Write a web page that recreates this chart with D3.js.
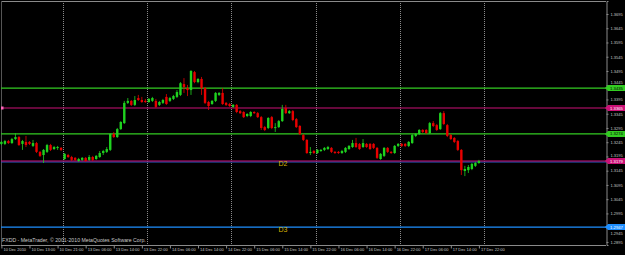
<!DOCTYPE html>
<html>
<head>
<meta charset="utf-8">
<script src="https://d3js.org/d3.v7.min.js"></script>
<style>
  html, body { margin: 0; padding: 0; background: #000; }
  svg { display: block; }
</style>
</head>
<body>
<div id="chart"></div>
<script>
// EURUSD H1, 10 Dec 2010 05:00 .. 17 Dec 2010 22:00
var openP = [1.3239,1.3239,1.3249,1.3242,1.3256,1.3263,1.3239,1.3246,1.3246,1.3232,
  1.3242,1.3211,1.3200,1.3211,1.3235,1.3221,1.3225,1.3225,1.3186,1.3200,
  1.3193,1.3190,1.3179,1.3183,1.3190,1.3183,1.3193,1.3186,1.3193,1.3207,
  1.3211,1.3218,1.3274,1.3263,1.3291,1.3312,1.3383,1.3390,1.3376,1.3400,
  1.3393,1.3390,1.3386,1.3390,1.3390,1.3376,1.3383,1.3404,1.3390,1.3397,
  1.3404,1.3411,1.3449,1.3435,1.3428,1.3491,1.3456,1.3467,1.3435,1.3386,
  1.3379,1.3390,1.3411,1.3418,1.3383,1.3379,1.3369,1.3376,1.3354,1.3351,
  1.3337,1.3337,1.3351,1.3347,1.3333,1.3298,1.3295,1.3333,1.3295,1.3298,
  1.3319,1.3365,1.3347,1.3354,1.3326,1.3302,1.3270,1.3253,1.3207,1.3214,
  1.3207,1.3214,1.3218,1.3221,1.3225,1.3211,1.3211,1.3207,1.3211,1.3221,
  1.3228,1.3242,1.3239,1.3228,1.3239,1.3239,1.3239,1.3225,1.3186,1.3197,
  1.3225,1.3211,1.3207,1.3232,1.3239,1.3239,1.3232,1.3242,1.3267,1.3274,
  1.3288,1.3288,1.3277,1.3312,1.3305,1.3291,1.3347,1.3305,1.3270,1.3260,
  1.3249,1.3218,1.3144,1.3147,1.3151,1.3162,1.3172];
var highP = [1.3249,1.3253,1.3253,1.3260,1.3277,1.3267,1.3253,1.3267,1.3249,1.3253,
  1.3246,1.3214,1.3221,1.3239,1.3239,1.3232,1.3232,1.3228,1.3207,1.3204,
  1.3197,1.3193,1.3190,1.3193,1.3193,1.3200,1.3197,1.3200,1.3214,1.3218,
  1.3228,1.3277,1.3281,1.3295,1.3319,1.3390,1.3400,1.3393,1.3407,1.3411,
  1.3404,1.3397,1.3400,1.3404,1.3397,1.3390,1.3397,1.3414,1.3404,1.3411,
  1.3428,1.3456,1.3470,1.3446,1.3498,1.3495,1.3470,1.3474,1.3439,1.3390,
  1.3393,1.3421,1.3421,1.3435,1.3386,1.3383,1.3379,1.3379,1.3358,1.3354,
  1.3347,1.3354,1.3354,1.3351,1.3337,1.3302,1.3333,1.3337,1.3312,1.3323,
  1.3376,1.3376,1.3358,1.3358,1.3330,1.3305,1.3274,1.3256,1.3228,1.3218,
  1.3221,1.3221,1.3228,1.3232,1.3228,1.3214,1.3214,1.3218,1.3228,1.3235,
  1.3253,1.3260,1.3242,1.3256,1.3242,1.3242,1.3242,1.3228,1.3207,1.3228,
  1.3228,1.3214,1.3235,1.3242,1.3242,1.3242,1.3249,1.3274,1.3277,1.3291,
  1.3291,1.3291,1.3316,1.3319,1.3309,1.3351,1.3354,1.3309,1.3274,1.3263,
  1.3253,1.3221,1.3162,1.3165,1.3172,1.3176,1.3183];
var lowP = [1.3235,1.3235,1.3239,1.3239,1.3253,1.3232,1.3218,1.3228,1.3235,1.3228,
  1.3207,1.3193,1.3172,1.3207,1.3214,1.3218,1.3218,1.3214,1.3183,1.3190,
  1.3179,1.3179,1.3176,1.3179,1.3176,1.3179,1.3179,1.3183,1.3190,1.3200,
  1.3207,1.3214,1.3260,1.3260,1.3288,1.3309,1.3379,1.3372,1.3372,1.3390,
  1.3383,1.3383,1.3383,1.3386,1.3365,1.3372,1.3379,1.3376,1.3386,1.3393,
  1.3400,1.3407,1.3418,1.3407,1.3411,1.3452,1.3452,1.3411,1.3379,1.3358,
  1.3376,1.3386,1.3407,1.3376,1.3372,1.3369,1.3365,1.3347,1.3344,1.3330,
  1.3333,1.3333,1.3344,1.3330,1.3288,1.3284,1.3291,1.3291,1.3281,1.3295,
  1.3316,1.3344,1.3344,1.3319,1.3295,1.3270,1.3249,1.3204,1.3200,1.3204,
  1.3204,1.3211,1.3214,1.3218,1.3207,1.3204,1.3204,1.3204,1.3207,1.3218,
  1.3225,1.3225,1.3218,1.3225,1.3225,1.3218,1.3221,1.3186,1.3183,1.3193,
  1.3207,1.3204,1.3204,1.3228,1.3228,1.3228,1.3228,1.3239,1.3263,1.3270,
  1.3277,1.3274,1.3274,1.3298,1.3284,1.3288,1.3305,1.3263,1.3253,1.3242,
  1.3214,1.3130,1.3126,1.3137,1.3147,1.3158,1.3169];
var closeP = [1.3246,1.3249,1.3242,1.3256,1.3263,1.3235,1.3249,1.3235,1.3239,1.3242,
  1.3211,1.3197,1.3218,1.3235,1.3218,1.3228,1.3228,1.3218,1.3204,1.3193,
  1.3183,1.3183,1.3186,1.3190,1.3179,1.3193,1.3183,1.3197,1.3207,1.3214,
  1.3221,1.3274,1.3263,1.3291,1.3316,1.3383,1.3390,1.3376,1.3393,1.3393,
  1.3386,1.3386,1.3397,1.3400,1.3369,1.3386,1.3393,1.3379,1.3400,1.3407,
  1.3421,1.3452,1.3439,1.3428,1.3495,1.3456,1.3467,1.3435,1.3383,1.3372,
  1.3390,1.3418,1.3418,1.3379,1.3376,1.3372,1.3376,1.3351,1.3347,1.3333,
  1.3344,1.3351,1.3347,1.3333,1.3295,1.3288,1.3330,1.3295,1.3298,1.3319,
  1.3362,1.3347,1.3354,1.3323,1.3298,1.3274,1.3253,1.3207,1.3211,1.3207,
  1.3218,1.3218,1.3225,1.3228,1.3211,1.3207,1.3207,1.3214,1.3225,1.3232,
  1.3242,1.3228,1.3221,1.3242,1.3228,1.3221,1.3225,1.3190,1.3204,1.3225,
  1.3211,1.3207,1.3232,1.3239,1.3232,1.3232,1.3246,1.3270,1.3274,1.3288,
  1.3281,1.3277,1.3312,1.3302,1.3288,1.3347,1.3309,1.3267,1.3256,1.3246,
  1.3218,1.3147,1.3151,1.3158,1.3169,1.3172,1.3179];

var timeLabels = ["10 Dec 2010","10 Dec 13:00","10 Dec 21:00","13 Dec 06:00","13 Dec 14:00",
  "13 Dec 22:00","14 Dec 06:00","14 Dec 14:00","14 Dec 22:00","15 Dec 06:00","15 Dec 14:00",
  "15 Dec 22:00","16 Dec 06:00","16 Dec 14:00","16 Dec 22:00","17 Dec 06:00","17 Dec 14:00",
  "17 Dec 22:00"];
var labelBars = [0,8,16,24,32,40,48,56,64,72,80,88,96,104,112,120,128,136];
var daySeparators = [18,42,66,90,114,138];

var priceTicks = [1.3695,1.3645,1.3595,1.3545,1.3495,1.3445,1.3395,1.3345,1.3295,
  1.3245,1.3195,1.3145,1.3095,1.3045,1.2995,1.2945,1.2895];

var levelPrices = [1.3435,1.3365,1.3274,1.3179,1.2947];
var levelNames = ["","","","D2","D3"];

function init() {
  var w = 625;
  var h = 255;
  var plotRight = 606;
  var plotTop = 1;
  var plotBottom = 245;

  var bull = "#1fd21f";
  var bear = "#e80000";
  var gridColor = "#8a8a8a";
  var levelColors = ["#33cc22","#cc1177","#33cc22","#cc1177","#1e8fff"];
  var levelText = ["#000","#fff","#000","#fff","#fff"];

  var bars = openP.map(function(o, i) {
    return { i: i, o: o, h: highP[i], l: lowP[i], c: closeP[i] };
  });

  var x = d3.scaleLinear()
    .domain([-0.4, 172.2])
    .range([0, plotRight]);

  var y = d3.scaleLinear()
    .domain([1.28842, 1.37406])
    .range([plotBottom, plotTop]);

  var svg = d3.select("#chart")
    .append("svg")
    .attr("width", w)
    .attr("height", h)
    .style("background", "#000")
    .style("font-family", "'Liberation Sans', Arial, sans-serif");

  // frame
  svg.append("line")
    .attr("x1", 1).attr("x2", plotRight)
    .attr("y1", plotTop + 0.5).attr("y2", plotTop + 0.5)
    .attr("stroke", gridColor);
  svg.append("line")
    .attr("x1", 1.5).attr("x2", 1.5)
    .attr("y1", plotTop).attr("y2", plotBottom)
    .attr("stroke", "#555");

  // day separators
  svg.selectAll(".sep")
    .data(daySeparators)
    .enter()
    .append("line")
    .attr("class", "sep")
    .attr("x1", function(d) { return Math.round(x(d - 0.5)) + 0.5; })
    .attr("x2", function(d) { return Math.round(x(d - 0.5)) + 0.5; })
    .attr("y1", plotTop)
    .attr("y2", plotBottom)
    .attr("stroke", gridColor)
    .attr("stroke-dasharray", "1,1");

  // level lines (the D2 line has a blue twin just under it)
  svg.append("line")
    .attr("x1", 1).attr("x2", plotRight)
    .attr("y1", y(levelPrices[3]) + 1).attr("y2", y(levelPrices[3]) + 1)
    .attr("stroke", "#2a5cc8");

  svg.selectAll(".level")
    .data(levelPrices)
    .enter()
    .append("line")
    .attr("class", "level")
    .attr("x1", 1).attr("x2", plotRight)
    .attr("y1", function(d) { return y(d); })
    .attr("y2", function(d) { return y(d); })
    .attr("stroke", function(d, i) { return levelColors[i]; })
    .attr("stroke-width", 1.2);

  svg.append("rect")
    .attr("x", 1).attr("y", y(levelPrices[1]) - 1.5)
    .attr("width", 2.5).attr("height", 3)
    .attr("fill", "#ff66bb");

  svg.selectAll(".lname")
    .data(levelPrices)
    .enter()
    .append("text")
    .attr("class", "lname")
    .attr("x", 283)
    .attr("y", function(d) { return y(d) + 4.5; })
    .attr("text-anchor", "middle")
    .attr("font-size", "7px")
    .attr("fill", "#d8b400")
    .text(function(d, i) { return levelNames[i]; });

  // candles
  var bw = 2.4;
  var candle = svg.selectAll(".candle")
    .data(bars)
    .enter()
    .append("g")
    .attr("class", "candle");

  candle.append("line")
    .attr("x1", function(d) { return x(d.i); })
    .attr("x2", function(d) { return x(d.i); })
    .attr("y1", function(d) { return y(d.h); })
    .attr("y2", function(d) { return y(d.l); })
    .attr("stroke", function(d) { return d.c >= d.o ? bull : bear; })
    .attr("stroke-width", 0.8);

  candle.append("rect")
    .attr("x", function(d) { return x(d.i) - bw / 2; })
    .attr("width", bw)
    .attr("y", function(d) { return y(Math.max(d.o, d.c)); })
    .attr("height", function(d) { return Math.max(1, Math.abs(y(d.o) - y(d.c))); })
    .attr("fill", function(d) { return d.c >= d.o ? bull : bear; });

  // price axis
  var yAxis = d3.axisRight(y)
    .tickValues(priceTicks)
    .tickSize(2)
    .tickPadding(2)
    .tickFormat(d3.format(".4f"));

  var ya = svg.append("g")
    .attr("transform", "translate(" + (plotRight + 0.5) + ",0)")
    .call(yAxis);
  ya.select(".domain").attr("stroke", gridColor);
  ya.selectAll(".tick line").attr("stroke", gridColor);

  // nudge tick labels that would sit under a level tag
  ya.selectAll(".tick text")
    .attr("fill", "#c8c8c8")
    .attr("font-size", "4px")
    .attr("font-family", "'Liberation Sans', Arial, sans-serif")
    .attr("y", function(d) {
      var shift = 0;
      levelPrices.forEach(function(p) {
        var dy = y(d) - y(p);
        if (Math.abs(dy) < 6) {
          shift = (dy < 0 ? -1 : 1) * (6 - Math.abs(dy));
        }
      });
      return shift;
    });

  // time axis
  var xAxis = d3.axisBottom(x)
    .tickValues(labelBars)
    .tickSize(3)
    .tickPadding(1)
    .tickFormat(function(d, i) { return timeLabels[i]; });

  var xa = svg.append("g")
    .attr("transform", "translate(0," + (plotBottom + 0.5) + ")")
    .call(xAxis);
  xa.select(".domain").attr("stroke", gridColor).attr("d", "M1,0H" + plotRight);
  xa.selectAll(".tick line").attr("stroke", gridColor);
  xa.selectAll(".tick text")
    .attr("fill", "#c8c8c8")
    .attr("font-size", "4px")
    .attr("text-anchor", "start")
    .attr("x", 1.5)
    .attr("y", 3)
    .attr("font-family", "'Liberation Sans', Arial, sans-serif");

  // price tags for the levels
  var tag = svg.selectAll(".tag")
    .data(levelPrices)
    .enter()
    .append("g")
    .attr("class", "tag")
    .attr("transform", function(d) { return "translate(" + plotRight + "," + y(d) + ")"; });

  tag.append("path")
    .attr("d", "M-1,0L2,-3H19V3H2Z")
    .attr("fill", function(d, i) { return levelColors[i]; });

  tag.append("text")
    .attr("x", 10.5)
    .attr("y", 1.5)
    .attr("text-anchor", "middle")
    .attr("font-size", "4.2px")
    .attr("fill", function(d, i) { return levelText[i]; })
    .text(function(d) { return d3.format(".4f")(d); });

  // copyright line
  svg.append("text")
    .attr("x", 2)
    .attr("y", 242)
    .attr("font-size", "5.2px")
    .attr("fill", "#c8c8c8")
    .text("FXDD - MetaTrader, \u00a9 2001-2010 MetaQuotes Software Corp.");
}

window.onload = init;
</script>
</body>
</html>
